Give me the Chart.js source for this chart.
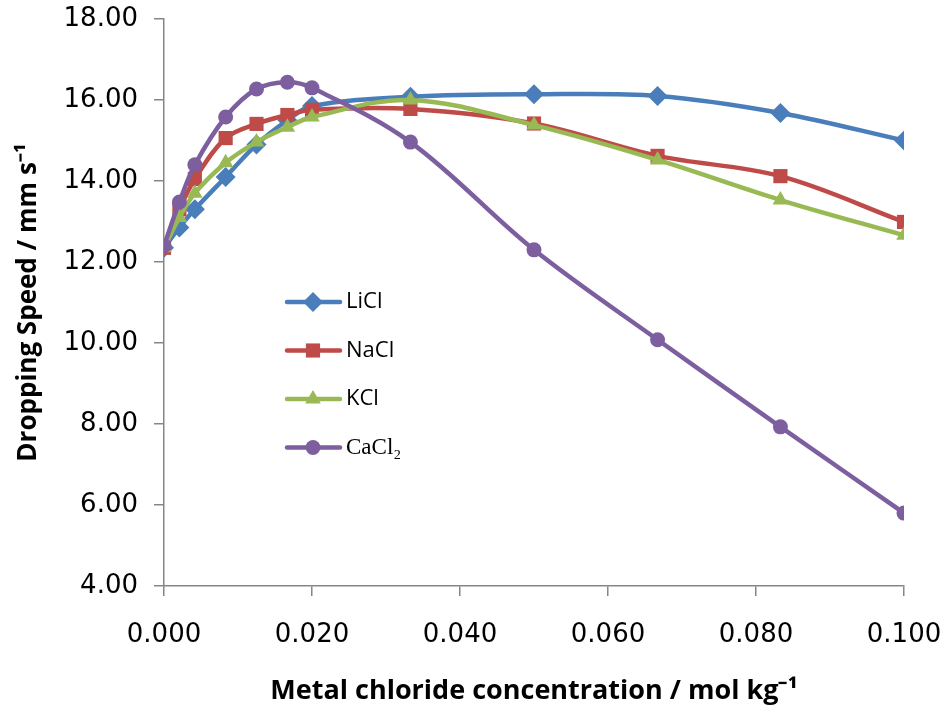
<!DOCTYPE html>
<html lang="en">
<head>
<meta charset="UTF-8">
<title>Dropping speed vs metal chloride concentration</title>
<script src="https://cdn.jsdelivr.net/npm/chart.js"></script>
<style>
    html, body { margin: 0; padding: 0; background: #fff; }
    #wrap { width: 944px; height: 715px; }
</style>
</head>
<body>
<div id="wrap"><canvas id="chartSpeed" width="944" height="715"></canvas></div>

<script>
    // concentration (mol/kg) and dropping speed (mm/s)
    var conc = [0, 0.00208, 0.00417, 0.00833, 0.0125, 0.01667, 0.02, 0.0333, 0.05, 0.0667, 0.0833, 0.1]
    var liCl = [12.35, 12.85, 13.30, 14.10, 14.90, 15.50, 15.85, 16.08, 16.14, 16.10, 15.68, 15.00]
    var naCl = [12.35, 13.30, 14.05, 15.06, 15.41, 15.63, 15.76, 15.78, 15.42, 14.62, 14.12, 12.99]
    var kCl = [12.35, 13.10, 13.70, 14.45, 14.96, 15.33, 15.58, 16.00, 15.38, 14.52, 13.53, 12.66]
    var caCl2 = [12.40, 13.48, 14.40, 15.58, 16.27, 16.44, 16.30, 14.96, 12.30, 10.08, 7.93, 5.80]

    var seriesNames = ['LiCl', 'NaCl', 'KCl', 'CaCl₂']
    var xTicks = [0, 0.02, 0.04, 0.06, 0.08, 0.1]
    var yTicks = [4, 6, 8, 10, 12, 14, 16, 18]

    var axisGray = '#868686'

    function pts(ys) {
        var out = []
        for (var i = 0; i < conc.length; i++) {
            out.push({ x: conc[i], y: ys[i] })
        }
        return out
    }

    function serie(label, ys, color, style, radius, order) {
        return {
            label: label,
            data: pts(ys),
            borderColor: color,
            backgroundColor: color,
            pointBackgroundColor: color,
            pointBorderColor: color,
            pointBorderWidth: 0,
            pointStyle: style,
            pointRadius: radius,
            borderWidth: 4.5,
            tension: 0.35,
            order: order
        }
    }

    var datasets = [
        serie(seriesNames[0], liCl, '#4A7EBB', 'rectRot', 10, 3),
        serie(seriesNames[1], naCl, '#BE4B48', 'rect', 10, 2),
        serie(seriesNames[2], kCl, '#98B954', 'triangle', 9, 1),
        serie(seriesNames[3], caCl2, '#7D5FA0', 'circle', 7.5, 0)
    ]

    // no extra room for the edge tick labels, the plot box is set by layout padding
    function noEdgePadding(scale) {
        scale.paddingLeft = 0
        scale.paddingRight = 0
        scale.paddingTop = 0
        scale.paddingBottom = 0
    }

    // legend drawn inside the plot, like the original
    var insideLegend = {
        id: 'insideLegend',
        afterDatasetsDraw: function (chart) {
            var ctx = chart.ctx
            var area = chart.chartArea
            var x0 = area.left + 123
            var y0 = area.top + 283
            var gap = 48.5
            ctx.save()
            for (var i = 0; i < datasets.length; i++) {
                var ds = datasets[i]
                var y = y0 + i * gap
                ctx.strokeStyle = ds.borderColor
                ctx.lineWidth = 4.5
                ctx.lineCap = 'round'
                ctx.beginPath()
                ctx.moveTo(x0, y)
                ctx.lineTo(x0 + 53, y)
                ctx.stroke()
                ctx.fillStyle = ds.backgroundColor
                ctx.strokeStyle = ds.backgroundColor
                ctx.lineWidth = 0
                Chart.helpers.drawPoint(ctx, { pointStyle: ds.pointStyle, radius: ds.pointRadius, borderWidth: 0 }, x0 + 26, y)
                ctx.fillStyle = '#000'
                ctx.textBaseline = 'middle'
                ctx.textAlign = 'left'
                ctx.font = i == 3 ? '23px "Liberation Serif"' : '22px "Open Sans"'
                ctx.fillText(ds.label, x0 + 59, y)
            }
            ctx.restore()
        }
    }

    new Chart(document.getElementById('chartSpeed'), {
        type: 'line',
        data: { datasets: datasets },
        plugins: [insideLegend],
        options: {
            responsive: false,
            animation: false,
            layout: { padding: { top: 19, right: 40, bottom: 3, left: 0 } },
            plugins: {
                legend: { display: false },
                tooltip: { enabled: false }
            },
            scales: {
                x: {
                    type: 'linear',
                    min: 0,
                    max: 0.1,
                    afterBuildTicks: function (scale) {
                        scale.ticks = xTicks.map(function (v) { return { value: v } })
                    },
                    afterFit: function (scale) {
                        scale.height = 126
                        noEdgePadding(scale)
                    },
                    border: { display: true, color: axisGray, width: 1.5 },
                    grid: { display: true, drawOnChartArea: false, drawTicks: true, tickLength: 10, color: axisGray, lineWidth: 1.5 },
                    ticks: {
                        color: '#000',
                        padding: 24,
                        maxRotation: 0,
                        font: { family: 'DejaVu Sans', size: 26 },
                        callback: function (v) { return Number(v).toFixed(3) }
                    },
                    title: {
                        display: true,
                        text: 'Metal chloride concentration / mol kg⁻¹',
                        color: '#000',
                        padding: { top: 29 },
                        font: { family: 'Open Sans', size: 27, weight: 'bold' }
                    }
                },
                y: {
                    min: 4,
                    max: 18,
                    afterBuildTicks: function (scale) {
                        scale.ticks = yTicks.map(function (v) { return { value: v } })
                    },
                    afterFit: function (scale) {
                        scale.width = 164
                        noEdgePadding(scale)
                    },
                    border: { display: true, color: axisGray, width: 1.5 },
                    grid: { display: true, drawOnChartArea: false, drawTicks: true, tickLength: 10, color: axisGray, lineWidth: 1.5 },
                    ticks: {
                        color: '#000',
                        padding: 16,
                        font: { family: 'DejaVu Sans', size: 26 },
                        callback: function (v) { return Number(v).toFixed(2) }
                    },
                    title: {
                        display: true,
                        text: 'Dropping Speed / mm s⁻¹',
                        color: '#000',
                        padding: { top: 13, bottom: 4 },
                        font: { family: 'Open Sans', size: 26, weight: 'bold' }
                    }
                }
            }
        }
    })
</script>
</body>
</html>
